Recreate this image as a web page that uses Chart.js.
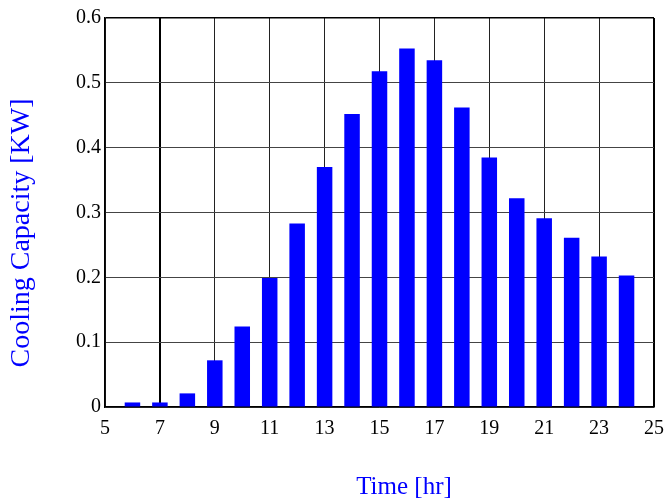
<!DOCTYPE html>
<html>
<head>
<meta charset="utf-8">
<title>Cooling Capacity</title>
<script src="https://cdn.jsdelivr.net/npm/chart.js@4.4.1/dist/chart.umd.min.js"></script>
<style>
  html, body { margin: 0; padding: 0; background: #fff; }
  #wrap { width: 665px; height: 501px; }
</style>
</head>
<body>
<div id="wrap"><canvas id="cooling-capacity"></canvas></div>
<script>
// hourly cooling capacity, hour of day vs KW
const hours = [6, 7, 8, 9, 10, 11, 12, 13, 14, 15, 16, 17, 18, 19, 20, 21, 22, 23, 24];
const capacityKW = [0.007, 0.007, 0.021, 0.072, 0.124, 0.199, 0.283, 0.370, 0.452, 0.518,
                    0.553, 0.535, 0.462, 0.385, 0.322, 0.291, 0.261, 0.232, 0.203];
const xTitle = 'Time [hr]';
const yTitle = 'Cooling Capacity [KW]';

const serif = '"Liberation Serif", "Times New Roman", serif';

// axis titles sit off-centre, so they are painted by hand
const axisTitles = {
  id: 'axisTitles',
  afterDraw(chart) {
    const ctx = chart.ctx;
    ctx.save();
    ctx.fillStyle = '#0000ff';
    ctx.textAlign = 'center';
    ctx.textBaseline = 'alphabetic';
    ctx.font = '25px ' + serif;
    ctx.fillText(xTitle, 404, 494);
    ctx.translate(29, 233);
    ctx.rotate(-Math.PI / 2);
    ctx.font = '28px ' + serif;
    ctx.fillText(yTitle, 0, 0);
    ctx.restore();
  }
};

const points = hours.map((h, i) => ({ x: h, y: capacityKW[i] }));

new Chart(document.getElementById('cooling-capacity'), {
  type: 'bar',
  data: {
    datasets: [{
      data: points,
      backgroundColor: '#0000ff',
      borderWidth: 0,
      barPercentage: 0.565,
      categoryPercentage: 1
    }]
  },
  options: {
    responsive: true,
    maintainAspectRatio: false,
    animation: false,
    layout: { padding: { top: 18, right: 0, left: 0, bottom: 0 } },
    plugins: {
      legend: { display: false },
      tooltip: { enabled: false }
    },
    scales: {
      x: {
        type: 'linear',
        min: 5,
        max: 25,
        offset: false,
        afterFit(scale) {
          scale.height = 94;
          scale.paddingRight = 11;
        },
        ticks: {
          stepSize: 2,
          padding: 10,
          color: '#000',
          font: { family: serif, size: 20 },
          maxRotation: 0
        },
        grid: {
          offset: false,
          drawTicks: false,
          color: ctx => (ctx.tick && (ctx.tick.value === 7 || ctx.tick.value === 25) ? '#000' : '#222'),
          lineWidth: ctx => (ctx.tick && (ctx.tick.value === 7 || ctx.tick.value === 25) ? 2 : 1)
        },
        border: { color: '#000', width: 1.5 }
      },
      y: {
        min: 0,
        max: 0.6,
        afterFit(scale) { scale.width = 105; },
        ticks: {
          stepSize: 0.1,
          padding: 4,
          color: '#000',
          font: { family: serif, size: 20 }
        },
        grid: {
          drawTicks: false,
          color: ctx => (ctx.tick && ctx.tick.value >= 0.6 ? '#000' : '#444'),
          lineWidth: ctx => (ctx.tick && ctx.tick.value >= 0.6 ? 1.5 : 1)
        },
        border: { color: '#000', width: 1.5 }
      }
    }
  },
  plugins: [axisTitles]
});
</script>
</body>
</html>
